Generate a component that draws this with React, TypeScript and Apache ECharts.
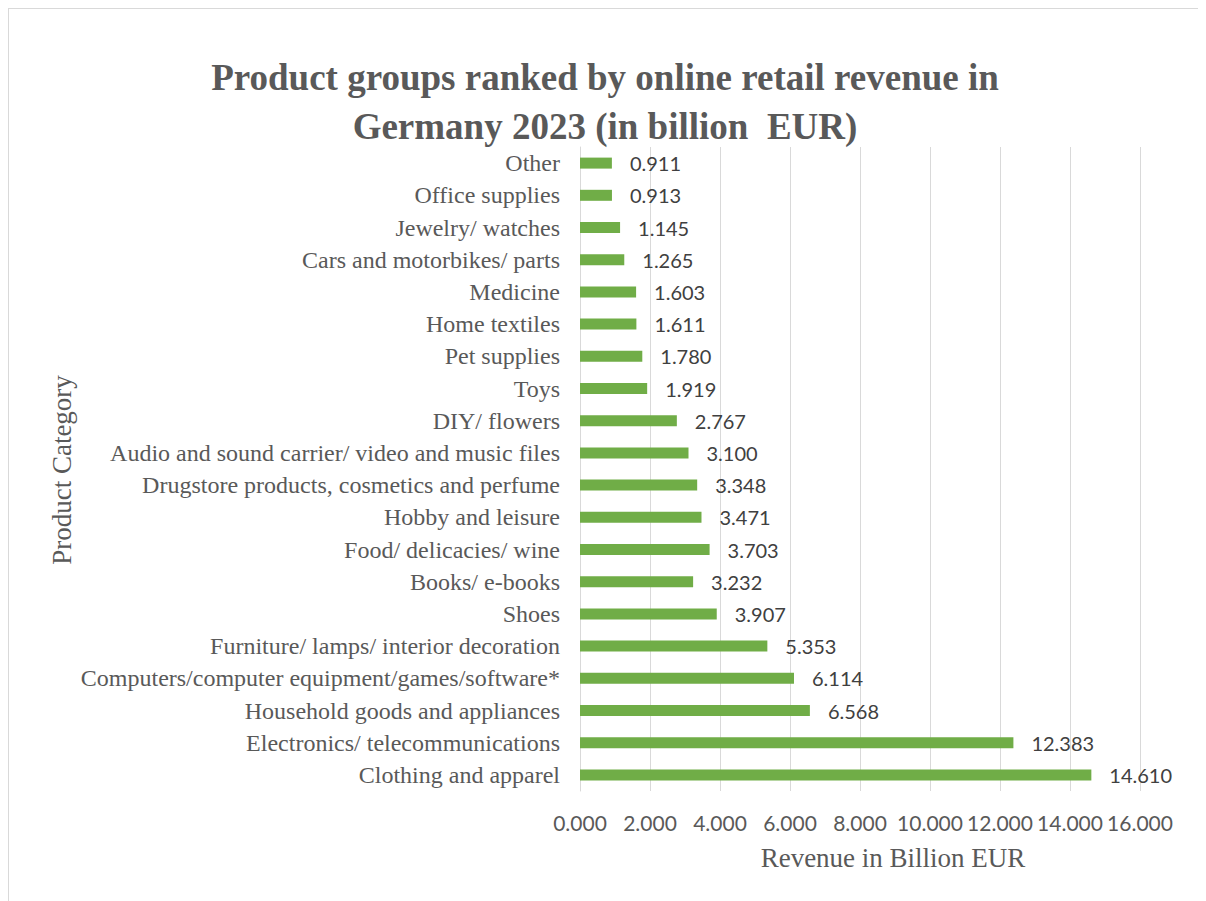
import React, { useEffect, useRef } from "react";
import * as echarts from "echarts";

const categories = [
  "Other",
  "Office supplies",
  "Jewelry/ watches",
  "Cars and motorbikes/ parts",
  "Medicine",
  "Home textiles",
  "Pet supplies",
  "Toys",
  "DIY/ flowers",
  "Audio and sound carrier/ video and music files",
  "Drugstore products, cosmetics and perfume",
  "Hobby and leisure",
  "Food/ delicacies/ wine",
  "Books/ e-books",
  "Shoes",
  "Furniture/ lamps/ interior decoration",
  "Computers/computer equipment/games/software*",
  "Household goods and appliances",
  "Electronics/ telecommunications",
  "Clothing and apparel",
];

const revenue = [
  0.911, 0.913, 1.145, 1.265, 1.603, 1.611, 1.78, 1.919, 2.767, 3.1, 3.348,
  3.471, 3.703, 3.232, 3.907, 5.353, 6.114, 6.568, 12.383, 14.61,
];

const titleText = "Product groups ranked by online retail revenue in\nGermany 2023 (in billion  EUR)";
const xAxisName = "Revenue in Billion EUR";
const yAxisName = "Product Category";

export default function App() {
  const ref = useRef<HTMLDivElement>(null);
  useEffect(() => {
    if (!ref.current) return;
    const chart = echarts.init(ref.current, null, { renderer: "svg" });
    const serif = "'Liberation Serif', 'Times New Roman', serif";
    const sans = "Lato, 'Open Sans', sans-serif";
    chart.setOption({
      animation: false,
      backgroundColor: "#ffffff",
      title: {
        text: titleText,
        left: "center",
        top: 39,
        textStyle: {
          fontFamily: serif,
          fontWeight: "bold",
          fontSize: 37,
          lineHeight: 49,
          color: "#595959",
        },
      },
      grid: { left: 571, top: 138, width: 560, height: 644, containLabel: false },
      xAxis: {
        type: "value",
        min: 0,
        max: 16,
        interval: 2,
        axisLine: { show: false },
        axisTick: { show: false },
        splitLine: { show: true, lineStyle: { color: "#d9d9d9", width: 1 } },
        axisLabel: {
          margin: 21,
          fontFamily: sans,
          fontSize: 21,
          color: "#595959",
          formatter: (v: number) => v.toFixed(3),
        },
      },
      yAxis: {
        type: "category",
        data: categories,
        inverse: true,
        axisLine: { show: true, lineStyle: { color: "#d9d9d9", width: 1 } },
        axisTick: { show: false },
        axisLabel: {
          margin: 20,
          fontFamily: serif,
          fontSize: 24,
          color: "#595959",
        },
      },
      series: [
        {
          type: "bar",
          data: revenue,
          barWidth: 11,
          itemStyle: { color: "#70AD47" },
          label: {
            show: true,
            position: "right",
            distance: 18,
            fontFamily: sans,
            fontSize: 20,
            color: "#404040",
            formatter: (p: any) => Number(p.value).toFixed(3),
          },
        },
      ],
      graphic: [
        {
          type: "text",
          x: 53,
          y: 461,
          rotation: Math.PI / 2,
          style: {
            text: yAxisName,
            fontFamily: serif,
            fontSize: 27,
            fill: "#595959",
            textAlign: "center",
            textVerticalAlign: "middle",
          },
        },
        {
          type: "text",
          x: 884,
          y: 849,
          style: {
            text: xAxisName,
            fontFamily: serif,
            fontSize: 27,
            fill: "#595959",
            textAlign: "center",
            textVerticalAlign: "middle",
          },
        },
      ],
    });
    return () => chart.dispose();
  }, []);
  return (
    <div
      style={{
        width: 1194,
        height: 900,
        border: "1px solid #d9d9d9",
        boxSizing: "border-box",
        background: "#fff",
      }}
    >
      <div ref={ref} style={{ width: 1192, height: 898 }} />
    </div>
  );
}
